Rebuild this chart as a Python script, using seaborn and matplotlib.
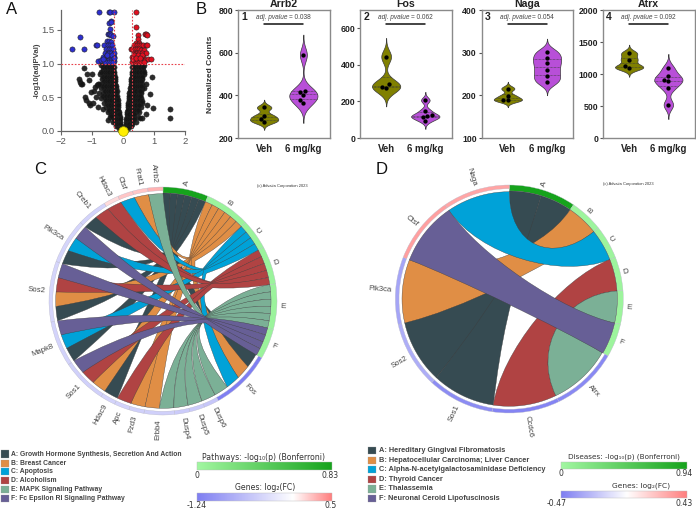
import numpy as np, pandas as pd
import matplotlib
matplotlib.use('Agg')
import matplotlib.pyplot as plt
from matplotlib.patches import Wedge, PathPatch, Rectangle
from matplotlib.path import Path
from matplotlib.colors import LinearSegmentedColormap, TwoSlopeNorm, Normalize
import seaborn as sns

sns.set_theme(style='white')
plt.rcParams['font.family'] = ['Liberation Sans', 'DejaVu Sans']

W, H = 696, 509
# ---------- Panel A data ----------
blue_x = [-.77,-.47,-.42,-.3,-.38,-.45,-.4,-.42,-.5,-.46,-.42,-.38,-.33,-1.4,-.52,-.45,-.38,-.88,-.85,-.62,-.48,-.42,-.35,
          -1.65,-1.25,-.56,-.46,-.4,-.34,-.6,-.5,-.44,-.38,-.29,-.64,-.54,-.44,-.38,-.3,-.8,-.7,-.58,-.5,-.44,-.38,-.28,-.6,-.46,-.4,-.32,-.66,-.52,-.36,-.28]
blue_y = [1.77,1.77,1.77,1.77,1.63,1.6,1.61,1.51,1.43,1.43,1.43,1.42,1.41,1.4,1.33,1.33,1.32,1.27,1.27,1.28,1.28,1.27,1.27,
          1.21,1.21,1.22,1.21,1.21,1.21,1.16,1.15,1.15,1.16,1.15,1.1,1.1,1.1,1.1,1.1,1.04,1.05,1.05,1.05,1.05,1.05,1.04,1.02,1.02,1.02,1.02,1.07,1.13,1.13,1.08]
red_x = [.41,.42,.47,.7,.72,.76,.47,.4,.5,.24,.36,.45,.5,.58,.65,.72,.76,.3,.38,.44,.5,.58,.66,.34,.4,.46,.52,.6,.72,
         .3,.36,.44,.5,.56,.64,.34,.4,.46,.52,.6,.7,.8,.9,.3,.38,.44,.5,.58,.68,.35,.48,.62,.32,.42,.55]
red_y = [1.77,1.54,1.42,1.43,1.43,1.42,1.37,1.31,1.31,1.21,1.27,1.27,1.28,1.27,1.27,1.27,1.27,1.21,1.21,1.21,1.21,1.2,1.2,1.16,1.16,1.15,1.15,1.15,1.16,
         1.1,1.1,1.1,1.1,1.1,1.1,1.05,1.05,1.05,1.05,1.05,1.05,1.06,1.06,1.02,1.02,1.02,1.02,1.02,1.02,1.13,1.13,1.13,1.07,1.08,1.08]
black_levels = [.98,.91,.84,.77,.70,.63,.56,.49,.42,.35,.28,.21,.14,.07,.02,
                .945,.875,.805,.735,.665,.595,.525,.455,.385,.315,.245,.175,.105,.04]
black_rows = [
 [-.7,-.6,-.5,-.42,-.35,.36,.44,.52,.6,.68],
 [-.66,-.56,-.48,-.4,-.33,.34,.42,.5,.58,.64],
 [-.75,-.62,-.52,-.44,-.36,-.29,.29,.32,.4,.48,.56,.66],
 [-.68,-.58,-.48,-.4,-.32,-.26,.26,.3,.38,.46,.56,.62],
 [-.8,-.7,-.6,-.5,-.42,-.34,-.26,.25,.3,.38,.46,.54,.6],
 [-.72,-.62,-.52,-.44,-.36,-.28,-.22,.22,.28,.36,.44,.52,.6,.68],
 [-.78,-.66,-.56,-.46,-.38,-.3,-.24,.2,.26,.34,.42,.5,.58],
 [-.72,-.6,-.5,-.42,-.34,-.26,-.19,.19,.24,.32,.4,.48,.56],
 [-.62,-.52,-.42,-.34,-.26,-.2,-.17,.17,.2,.28,.36,.44,.54,.62],
 [-.55,-.46,-.38,-.3,-.22,-.15,.15,.2,.28,.36,.46,.56],
 [-.5,-.4,-.32,-.25,-.18,-.13,.13,.16,.24,.32,.42,.52],
 [-.42,-.34,-.26,-.2,-.14,-.11,.11,.14,.2,.26,.34,.48],
 [-.34,-.26,-.2,-.14,-.1,.1,.16,.22,.3,.42],
 [-.22,-.16,-.11,-.08,.08,.11,.16,.24],
 [-.1,-.07,-.03,0,.03,.07,.1],
 [-.64,-.54,-.45,-.37,-.3,.3,.38,.47,.55,.63],
 [-.6,-.52,-.44,-.36,-.29,.29,.33,.41,.49,.57,.66],
 [-.66,-.56,-.46,-.38,-.3,-.27,.27,.31,.39,.47,.55,.6],
 [-.62,-.52,-.44,-.36,-.28,-.25,.25,.28,.36,.44,.52,.58],
 [-.66,-.55,-.46,-.38,-.3,-.24,.24,.27,.35,.43,.5,.57],
 [-.6,-.5,-.42,-.34,-.26,-.21,.21,.25,.33,.41,.5,.56],
 [-.66,-.54,-.44,-.36,-.28,-.21,.19,.23,.31,.39,.47,.54],
 [-.56,-.46,-.38,-.3,-.24,-.18,.18,.22,.3,.38,.46,.5],
 [-.5,-.42,-.34,-.27,-.2,-.16,.16,.2,.27,.35,.42,.5],
 [-.46,-.36,-.28,-.22,-.15,.14,.17,.24,.31,.4,.48],
 [-.38,-.3,-.23,-.17,-.12,.12,.14,.2,.27,.36],
 [-.28,-.22,-.16,-.1,.1,.12,.18,.26,.34],
 [-.2,-.15,-.09,.09,.15,.2,.28],
 [-.14,-.1,-.06,.06,.1,.14]]
outlier_x = [-1.25,-1.15,-1.0,-.72,-1.42,-1.38,-1.1,-1.35,-1.32,-.92,-.85,-.78,-.95,-1.05,-1.22,-.88,-.98,-1.2,-1.1,-1.06,-.82,-.65,.92,.72,.85,.78,.96,1.52,1.52,.75,.6,.55,-.4,-.48,.55,.62]
outlier_y = [.94,.84,.85,.88,.77,.72,.76,.7,.69,.65,.68,.7,.6,.58,.5,.5,.42,.46,.42,.39,.35,.32,.8,.7,.55,.38,.34,.32,.2,.25,.2,.2,.22,.17,.6,.45]

# ---------- Panel B data ----------
genes_b = ['Arrb2','Fos','Naga','Atrx']
group_names = ['Veh','6 mg/kg']
veh_vals = [[343,305,288,275],[445,295,275,278],[216,199,190,188],[1325,1225,1120,1090]]
dose_vals = [[590,420,415,400,378,365],[207,150,125,118,115,95],[302,288,275,260,245,231],[1090,970,900,895,785,520]]
pvals = ['0.038','0.062','0.054','0.092']
y_lims = [(200,800),(0,700),(100,400),(0,2000)]
y_ticks = [[200,400,600,800],[0,200,400,600],[100,200,300,400],[0,500,1000,1500,2000]]

# ---------- Panels C, D data ----------
genes_c = ['Fos','Dusp6','Dusp5','Dusp4','Erbb4','Fzd3','Apc','Hdac9','Sos1','Mapk8','Sos2','Pik3ca','Creb1','Hdac3','Ctsf','Frat1','Arrb2']
links_c = ['ABCE','E','E','E','EB','B','D','A','BDF','ACF','ABDF','ACF','AD','D','C','B','E']
fc_c = [-1.24,-.55,-.5,-.5,-.45,-.45,-.42,-.42,-.45,-.42,-.4,-.4,-.42,.14,.22,.22,.3]
slots_c = {'A':['Creb1','Pik3ca','Sos2','Mapk8','Hdac9','Fos'],'B':['Frat1','Sos2','Sos1','Fzd3','Erbb4','Fos'],
           'C':['Ctsf','Pik3ca','Mapk8','Fos'],'D':['Hdac3','Creb1','Sos2','Sos1','Apc'],
           'E':['Erbb4','Dusp4','Dusp5','Dusp6','Fos','Arrb2'],'F':['Pik3ca','Sos2','Mapk8','Sos1']}
path_val_c = [.83,.04,.04,.04,.04,.04]
genes_d = ['Atrx','Ccdc6','Sos1','Sos2','Pik3ca','Ctsf','Naga']
links_d = ['E','D','A','A','B','F','C']
fc_d = [-.43,-.45,-.42,-.3,-.33,.32,.3]
slots_d = {'A':['Sos2','Sos1'],'B':['Pik3ca'],'C':['Naga'],'D':['Ccdc6'],'E':['Atrx'],'F':['Ctsf']}
path_val_d = [.94,.04,.04,.04,.04,.04]
path_letters = ['A','B','C','D','E','F']
names_c = ['Growth Hormone Synthesis, Secretion And Action','Breast Cancer','Apoptosis','Alcoholism','MAPK Signaling Pathway','Fc Epsilon RI Signaling Pathway']
names_d = ['Hereditary Gingival Fibromatosis','Hepatocellular Carcinoma; Liver Cancer','Alpha-N-acetylgalactosaminidase Deficiency','Thyroid Cancer','Thalassemia','Neuronal Ceroid Lipofuscinosis']
chord_cols = dict(zip(path_letters,['#364b52','#e08e45','#00a2d8','#b04343','#7bb096','#675f96']))

green_cm = LinearSegmentedColormap.from_list('g',['#a2f7a2','#16a31c'])
fc_cm = LinearSegmentedColormap.from_list('fc',['#7f7ff2','#ffffff','#ff7f7f'])

fig = plt.figure(figsize=(W/100,H/100),dpi=100)
def add_px(l,t,r,b,**kw):
    return fig.add_axes([l/W,1-b/H,(r-l)/W,(b-t)/H],**kw)

# Panel A
ax = add_px(61,9.5,185.3,131)
black = pd.DataFrame({'x':[v for r in black_rows for v in r]+outlier_x,
                      'y':[l for l,r in zip(black_levels,black_rows) for _ in r]+outlier_y})
kw = dict(ax=ax,s=14,linewidth=.4,edgecolor='#222222',clip_on=False,legend=False)
sns.scatterplot(data=black,x='x',y='y',color='#151515',alpha=.9,**kw)
sns.scatterplot(x=blue_x,y=blue_y,color='#2d2fd0',**kw)
sns.scatterplot(x=red_x,y=red_y,color='#e01020',**kw)
sns.scatterplot(x=[0],y=[0],color='#ffee00',ax=ax,s=48,linewidth=.5,edgecolor='#999900',clip_on=False,legend=False,zorder=6)
ax.set(xlim=(-2,2),ylim=(0,1.8),xlabel='',ylabel='')
ax.axhline(1,color='#e8404a',ls=(0,(1.5,1.5)),lw=.8,zorder=5)
for xv in (-.3,.3):
    ax.axvline(xv,color='#e8404a',ls=(0,(1.5,1.5)),lw=.8,zorder=5)
ax.set_xticks([-2,-1,0,1,2]); ax.set_yticks([0,.5,1,1.5])
ax.set_xticklabels(['−2','−1','0','1','2']); ax.set_yticklabels(['0.0','0.5','1.0','1.5'])
ax.tick_params(length=3,width=.8,color='#666666',labelcolor='#555555',labelsize=6.8,pad=1.5,bottom=True,left=True)
sns.despine(ax=ax)
for s in ('left','bottom'):
    ax.spines[s].set_color('#666666'); ax.spines[s].set_linewidth(.9)
ax.set_ylabel('-log10(adjPVal)',fontsize=5.6,fontweight='bold',color='#444444',labelpad=1)

# Panel B
lefts = [238,360,481.7,603]
for i,g in enumerate(genes_b):
    ax = add_px(lefts[i],10,lefts[i]+91.5,138)
    df = pd.DataFrame({'group':[group_names[0]]*len(veh_vals[i])+[group_names[1]]*len(dose_vals[i]),
                       'value':veh_vals[i]+dose_vals[i]})
    sns.violinplot(data=df,x='group',y='value',hue='group',palette=['#808000','#b84fd8'],legend=False,ax=ax,
                   bw_adjust=.55,inner='quart',linewidth=.5,width=.72,density_norm='width',cut=3,
                   linecolor='#3a3a3a',saturation=1)
    for ln in ax.lines:
        ln.set_linestyle((0,(1,1))); ln.set_linewidth(.5)
    sns.swarmplot(data=df,x='group',y='value',color='black',size=3.1,ax=ax,legend=False,zorder=5)
    ax.set(xlim=(-.667,1.667),ylim=y_lims[i],xlabel='',ylabel='')
    ax.set_yticks(y_ticks[i])
    ax.tick_params(axis='y',length=2.5,width=.8,color='#555555',labelsize=6.3,pad=1,left=True)
    for t in ax.get_yticklabels(): t.set_fontweight('bold'); t.set_color('#222222')
    ax.tick_params(axis='x',length=0,labelsize=6.9,pad=4.5)
    for t in ax.get_xticklabels(): t.set_fontweight('bold'); t.set_color('#222222')
    for s in ax.spines.values():
        s.set_visible(True); s.set_color('#8a8a8a'); s.set_linewidth(1)
    ax.set_title(g,fontsize=7.6,fontweight='bold',pad=2,color='#222222')
    ax.text(.035,.945,str(i+1),transform=ax.transAxes,fontsize=7.5,fontweight='bold',va='center',color='#222222')
    ax.text(.54,.94,'adj. pvalue',transform=ax.transAxes,fontsize=4.7,fontstyle='italic',ha='right',va='center',color='#444444')
    ax.text(.555,.94,f'= {pvals[i]}',transform=ax.transAxes,fontsize=4.7,ha='left',va='center',color='#444444')
    ax.plot([0,1],[.89,.89],transform=ax.get_xaxis_transform(),color='#111111',lw=1.1,clip_on=False)
    if i==0:
        ax.set_ylabel('Normalized Counts',fontsize=6,fontweight='bold',color='#333333',labelpad=3)

# Chords
def pol(r,a):
    t = np.deg2rad(a)
    return np.array([r*np.sin(t),r*np.cos(t)])
def wedge(ax,r0,r1,a0,a1,col):
    ax.add_patch(Wedge((0,0),r1,90-a1,90-a0,width=r1-r0,facecolor=col,edgecolor='#b8b8c8',linewidth=.25))
def arc(r,a0,a1):
    return [pol(r,a) for a in np.linspace(a0,a1,14)]

def chord(cx,cy,genes,links,fc,slots,path_vals,fc_lim,path_max,bundle=None):
    bundle = bundle or {}
    half = 135
    ax = add_px(cx-half,cy-half,cx+half,cy+half)
    ax.set_xlim(-half,half); ax.set_ylim(-half,half); ax.axis('off')
    n = sum(len(l) for l in links)
    gu, pu = 240/n, 120/n
    R, Rp, Rg, Rc = 114, 108, 110.3, 107.3
    fnorm = TwoSlopeNorm(vmin=fc_lim[0],vcenter=0,vmax=fc_lim[1])
    gnorm = Normalize(0,path_max)
    slot_pos, pcent = {}, {}
    a = 0
    for k,L in enumerate(path_letters):
        a0 = a
        for g in slots[L]:
            slot_pos[(g,L)] = (a,a+pu); a += pu
        wedge(ax,Rp,R,a0,a,green_cm(gnorm(path_vals[k])))
        pcent[L] = (a0+a)/2
        tr = pol(R+6,pcent[L])
        ax.text(*tr,L,fontsize=5.8,color='#444444',rotation=90-pcent[L],ha='center',va='center',rotation_mode='anchor')
    a = 120
    gene_pos = {}
    for g,l,f in zip(genes,links,fc):
        a0 = a
        for L in l:
            gene_pos[(g,L)] = (a,a+gu); a += gu
        wedge(ax,Rg,R,a0,a,fc_cm(fnorm(f)))
        m = (a0+a)/2
        tr = pol(R+4,m)
        if m < 180:
            ax.text(*tr,g,fontsize=5.6,color='#444444',rotation=90-m,ha='left',va='center',rotation_mode='anchor')
        else:
            ax.text(*tr,g,fontsize=5.6,color='#444444',rotation=270-m,ha='right',va='center',rotation_mode='anchor')
    for L in path_letters:
        for g in slots[L]:
            g0,g1 = gene_pos[(g,L)]
            p0,p1 = slot_pos[(g,L)]
            sc = (p0+p1)/2
            hw = (p1-p0)/2
            rb, ab = bundle.get(L,(.45,pcent[L]))
            base = ab+.15*(sc-pcent[L])
            spread = min(1.2*hw,2.5)
            P0,P1 = pol(Rp,p0),pol(Rp,p1)
            G0,G1 = pol(Rc,g0),pol(Rc,g1)
            verts = arc(Rp,p0,p1); codes = [Path.MOVETO]+[Path.LINETO]*13
            garc = arc(Rc,g0,g1)[1:]
            if len(slots[L])==1:
                verts += [.5*P1,.5*G0,G0]; codes += [Path.CURVE4]*3
                verts += garc; codes += [Path.LINETO]*len(garc)
                verts += [.5*G1,.5*P0,P0]; codes += [Path.CURVE4]*3
            else:
                B0,B1 = pol(rb*R,base-spread),pol(rb*R,base+spread)
                c1 = .72*P1
                c2 = .5*(B1+.8*(B1-c1))+.5*(.55*G0)
                verts += [c1,B1,c2,G0]; codes += [Path.CURVE3]*4
                verts += garc; codes += [Path.LINETO]*len(garc)
                c1 = .72*P0
                c2 = .5*(B0+.8*(B0-c1))+.5*(.55*G1)
                verts += [c2,B0,c1,P0]; codes += [Path.CURVE3]*4
            ax.add_patch(PathPatch(Path(verts,codes),facecolor=chord_cols[L],edgecolor='#3c3c3c',linewidth=.25))

chord(163,301,genes_c,links_c,fc_c,slots_c,path_val_c,(-1.24,.5),.83,bundle={'E':(.40,112),'F':(.42,114)})
chord(509.3,299,genes_d,links_d,fc_d,slots_d,path_val_d,(-.47,.43),.94)

# Overlay in pixel coordinates
ov = fig.add_axes([0,0,1,1],zorder=10); ov.set_xlim(0,W); ov.set_ylim(H,0); ov.axis('off'); ov.patch.set_alpha(0)
for s,x,y in [('A',6,9),('B',196,9),('C',34,170),('D',376,170)]:
    ov.text(x,y,s,fontsize=12,va='center',color='#111111')
ov.text(257,186,'(c) Advaita Corporation 2023',fontsize=2.9,va='center',color='#333333')
ov.text(603,184,'(c) Advaita Corporation 2023',fontsize=2.9,va='center',color='#333333')

def legend(names,ys,xs,xt,fs):
    for L,nm,y in zip(path_letters,names,ys):
        ov.add_patch(Rectangle((xs,y-3.7),7.5,7.4,facecolor=chord_cols[L],edgecolor='#999999',linewidth=.2))
        ov.text(xt,y,f'{L}: {nm}',fontsize=fs,va='center',color='#444444',fontweight='bold')
legend(names_c,[454,463.3,471.7,480.7,489.3,498.7],1,11,4.9)
legend(names_d,[450.7,460.3,469.7,479.7,489,498.7],368,379,5.3)

def bar(cm,x0,x1,y0,y1,title,tx,ty,tfs,lo,hi,ly,lox,hix,vals=None):
    grad = np.linspace(0,1,256)[None,:] if vals is None else vals[None,:]
    ov.imshow(grad,cmap=cm,vmin=0,vmax=1,extent=(x0,x1,y1,y0),aspect='auto',zorder=2)
    ov.add_patch(Rectangle((x0,y0),x1-x0,y1-y0,fill=False,edgecolor='#bbbbbb',linewidth=.3,zorder=3))
    ov.text(tx,ty,title,fontsize=tfs,ha='center',va='center',color='#333333',fontfamily=['DejaVu Sans'])
    ov.text(lox,ly,lo,fontsize=5.6,ha='center',va='center',color='#333333',fontfamily=['DejaVu Sans'])
    ov.text(hix,ly,hi,fontsize=5.6,ha='right',va='center',color='#333333',fontfamily=['DejaVu Sans'])

t = np.linspace(-1.24,.5,256)
fc_grad_c = np.where(t<0,.5*(t+1.24)/1.24,.5+.5*t/.5)
t = np.linspace(-.47,.43,256)
fc_grad_d = np.where(t<0,.5*(t+.47)/.47,.5+.5*t/.43)
bar(green_cm,197,332,462,470,'Pathways: -log\u2081\u2080(p) (Bonferroni)',264,457,5.6,'0','0.83',475,197,339)
bar(fc_cm,197,332,493,501,'Genes: log\u2082(FC)',265,488,5.6,'-1.24','0.5',506,197,337,fc_grad_c)
bar(green_cm,561,687,462,469,'Diseases: -log\u2081\u2080(p) (Bonferroni)',624,457,5.2,'0','0.94',474,561,693)
bar(fc_cm,561,687,491,498,'Genes: log\u2082(FC)',641,486,5.4,'-0.47','0.43',503,557,693,fc_grad_d)
ov.set_xlim(0,W); ov.set_ylim(H,0)

fig.savefig('out.png',dpi=100)
